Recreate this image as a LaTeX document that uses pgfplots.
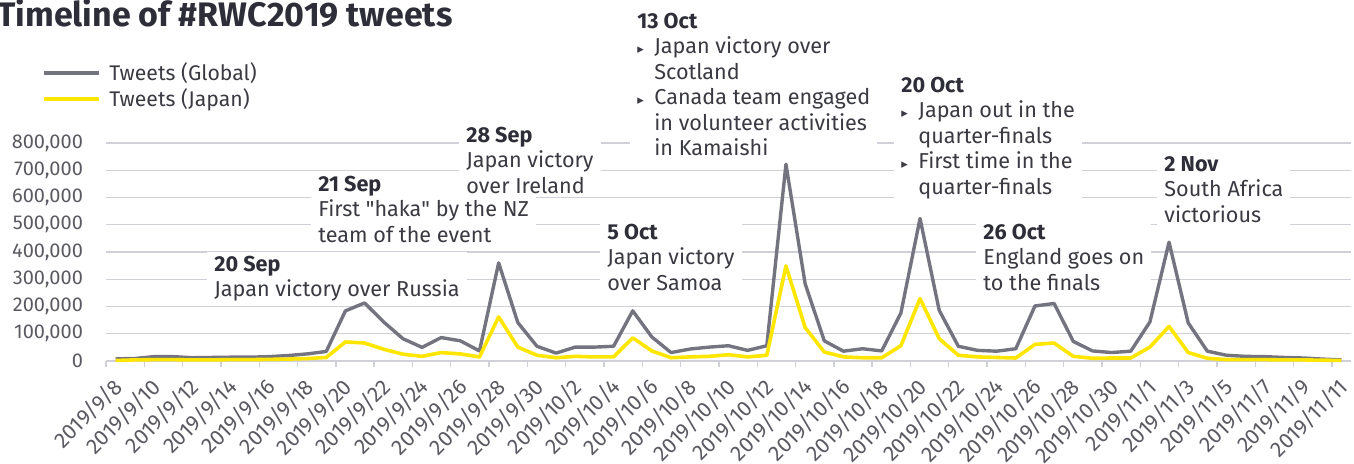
\documentclass[border=0pt]{standalone}
\usepackage{fontspec}
\setmainfont{Fira Sans}
\newfontfamily\qfont{Fira Sans}[Ligatures=TeXOff]
\newfontfamily\symfont{DejaVu Sans}
\usepackage{pgfplots}
\pgfplotsset{compat=1.18}

\definecolor{eygray}{HTML}{747480}
\definecolor{eyyellow}{HTML}{FFE600}
\definecolor{ink}{HTML}{2E2E38}
\definecolor{bodytxt}{HTML}{3A3A42}
\definecolor{ticktxt}{HTML}{5A5A62}
\definecolor{gridc}{HTML}{D0D0D8}

% daily tweet counts, 2019/9/8 (idx 0) .. 2019/11/11 (idx 64)
\pgfplotstableread{
idx global japan
0 8000 2000
1 9000 4000
2 16000 5000
3 16000 5000
4 12000 4000
5 13000 4000
6 14000 5000
7 14000 5000
8 16000 6000
9 20000 7000
10 26000 9000
11 35000 13000
12 184000 70000
13 213000 66000
14 143000 43000
15 82000 25000
16 50000 17000
17 86000 31000
18 74000 26000
19 37000 15000
20 360000 162000
21 141000 51000
22 54000 21000
23 29000 12000
24 51000 17000
25 51000 15000
26 54000 15000
27 184000 85000
28 88000 37000
29 31000 12000
30 44000 15000
31 51000 17000
32 56000 23000
33 39000 15000
34 56000 21000
35 722000 349000
36 284000 123000
37 74000 33000
38 36000 15000
39 45000 12000
40 37000 12000
41 176000 56000
42 523000 229000
43 186000 82000
44 54000 21000
45 39000 15000
46 36000 13000
47 45000 11000
48 202000 61000
49 211000 66000
50 72000 17000
51 37000 10000
52 31000 11000
53 36000 11000
54 143000 51000
55 436000 127000
56 140000 31000
57 36000 10000
58 21000 5000
59 17000 5000
60 16000 5000
61 13000 4000
62 11000 4000
63 7000 3000
64 4000 2000
}\tweets

\newcommand{\annfont}{\fontsize{10.8}{12.75}\selectfont}
\newcommand{\bul}{\makebox[8.5pt][l]{\symfont\fontsize{6.5}{6.5}\selectfont ▸}}
\newcommand{\ind}{\hspace*{8.5pt}}
\tikzset{ann/.style={anchor=base west, align=left, fill=white, inner xsep=3.5pt, inner ysep=2pt, text=bodytxt, font=\annfont}}

\begin{document}
\begin{tikzpicture}[x=0.5pt,y=-0.5pt]
\useasboundingbox (0,0) rectangle (1354,464);

\begin{axis}[
  clip=false,
  at={(53pt,-180.5pt)}, anchor=south west,
  scale only axis, width=622.5pt, height=109pt,
  xmin=-0.5, xmax=64.5, ymin=0, ymax=800000,
  axis x line*=bottom, axis y line*=left,
  y axis line style={draw=none},
  x axis line style={gridc, line width=0.7pt},
  ytick={0,100000,...,800000},
  scaled y ticks=false,
  /pgf/number format/fixed,
  /pgf/number format/1000 sep={,},
  /pgf/number format/assume math mode=true,
  yticklabel style={text=ticktxt, font=\fontsize{10}{11}\selectfont, xshift=-8pt},
  ymajorgrids, major grid style={gridc, line width=0.6pt},
  xtick={0,2,...,64},
  xticklabels={2019/9/8,2019/9/10,2019/9/12,2019/9/14,2019/9/16,2019/9/18,2019/9/20,2019/9/22,2019/9/24,2019/9/26,2019/9/28,2019/9/30,2019/10/2,2019/10/4,2019/10/6,2019/10/8,2019/10/10,2019/10/12,2019/10/14,2019/10/16,2019/10/18,2019/10/20,2019/10/22,2019/10/24,2019/10/26,2019/10/28,2019/10/30,2019/11/1,2019/11/3,2019/11/5,2019/11/7,2019/11/9,2019/11/11},
  xticklabel style={text=ticktxt, font=\fontsize{10.8}{11}\selectfont, yshift=-11pt, xshift=1.5pt, rotate=45, anchor=east, inner sep=0pt},
  minor xtick={-0.5,1.5,...,64},
  major tick length=0pt, minor tick length=3pt,
  tick align=outside,
  minor tick style={gridc, line width=0.7pt},
  legend style={at={(rel axis cs:-0.0514,1.378)}, anchor=north west, draw=none, fill=none,
    font=\fontsize{10.6}{11}\selectfont, text=bodytxt, row sep=0.4pt, inner sep=0pt,
    nodes={inner sep=1pt}},
  legend cell align=left,
  legend image code/.code={\draw[#1, line width=2pt] (0pt,0pt) -- (27.5pt,0pt);},
  /tikz/every odd column/.append style={column sep=3pt},
]
% annotations first: white boxes over the grid, under the lines (anchor = baseline of last line)
\node[ann] at (axis cs:4.773,236696) {\textcolor{ink}{\textbf{20 Sep}}\\Japan victory over Russia};
\node[ann] at (axis cs:10.203,436697) {\textcolor{ink}{\textbf{21 Sep}}\\First {\qfont"}haka{\qfont"} by the NZ\\team of the event};
\node[ann] at (axis cs:17.930,616510) {\textcolor{ink}{\textbf{28 Sep}}\\Japan victory\\over Ireland};
\node[ann] at (axis cs:25.291,260549) {\textcolor{ink}{\textbf{5 Oct}}\\Japan victory\\over Samoa};
\node[ann] at (axis cs:26.857,754123) {\textcolor{ink}{\textbf{13 Oct}}\\\bul Japan victory over\\\ind Scotland\\\bul Canada team engaged\\\ind in volunteer activities\\\ind in Kamaishi};
\node[ann] at (axis cs:40.641,612840) {\textcolor{ink}{\textbf{20 Oct}}\\\bul Japan out in the\\\ind quarter-finals\\\bul First time in the\\\ind quarter-finals};
\node[ann] at (axis cs:44.922,260549) {\textcolor{ink}{\textbf{26 Oct}}\\England goes on\\to the finals};
\node[ann] at (axis cs:54.372,510088) {\textcolor{ink}{\textbf{2 Nov}}\\South Africa\\victorious};

\addplot[eygray, line width=1.7pt, line join=round] table[x=idx, y=global] {\tweets};
\addlegendentry{Tweets (Global)}
\addplot[eyyellow, line width=1.8pt, line join=round] table[x=idx, y=japan] {\tweets};
\addlegendentry{Tweets (Japan)}
\end{axis}

% title
\node[anchor=base west, inner sep=0pt, text=ink, font=\fontsize{17}{18}\selectfont\bfseries] at (-3,27) {Timeline of \#RWC2019 tweets};
\end{tikzpicture}
\end{document}
